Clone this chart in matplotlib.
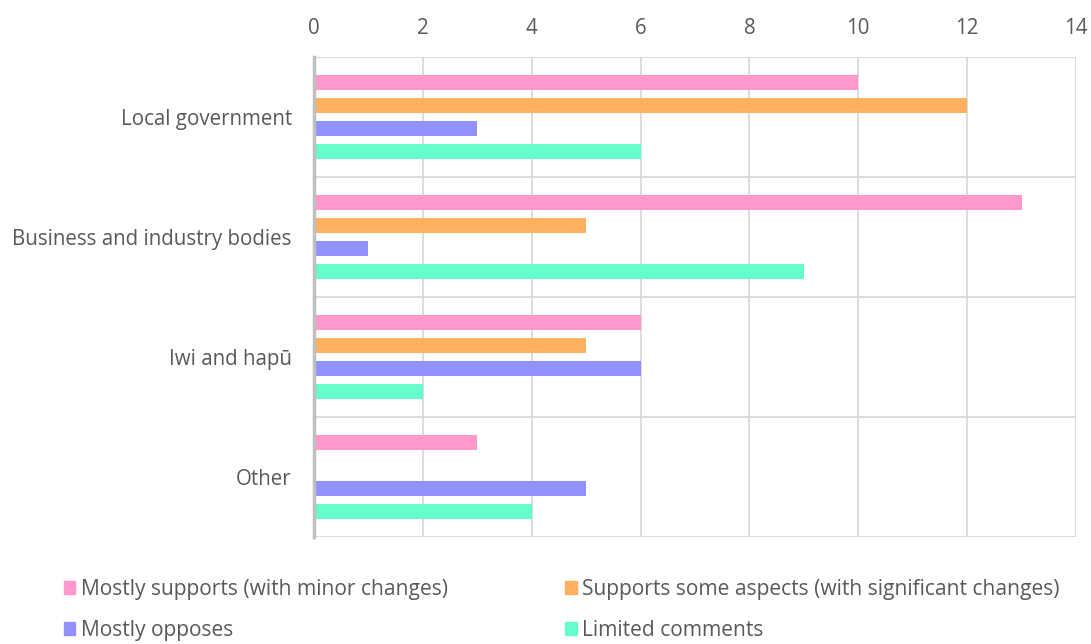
import matplotlib
matplotlib.use("Agg")
import matplotlib.pyplot as plt
import numpy as np
from matplotlib.patches import Patch

categories = ["Local government", "Business and industry bodies", "Iwi and hapū", "Other"]
series_names = ["Mostly supports (with minor changes)",
                "Supports some aspects (with significant changes)",
                "Mostly opposes",
                "Limited comments"]
mostly_supports = [10, 13, 6, 3]
supports_some = [12, 5, 5, 0]
mostly_opposes = [3, 1, 6, 5]
limited_comments = [6, 9, 2, 4]
xticks = [0, 2, 4, 6, 8, 10, 12, 14]

colors = ["#FF99CC", "#FFB061", "#9090FF", "#66FFCC"]
series = [mostly_supports, supports_some, mostly_opposes, limited_comments]

plt.rcParams['font.family'] = ['Open Sans', 'DejaVu Sans']
txt = "#595959"
fs = 14.8
lfs = 15.1

fig = plt.figure(figsize=(10.91, 6.44), dpi=100)
ax = fig.add_axes([314/1091, 1-537/644, (1076-314)/1091, (537-57)/644])

y = np.arange(len(categories))
pitch = 23/120
h = 15/120
for i, (vals, c) in enumerate(zip(series, colors)):
    ax.barh(y + (i - 1.5) * pitch, vals, height=h, color=c, zorder=3)

ax.set_ylim(len(categories) - 0.5, -0.5)
ax.set_xlim(0, 14)
ax.set_xticks(xticks)
ax.xaxis.tick_top()
ax.set_yticks(y)
ax.set_yticklabels(categories)
ax.tick_params(axis='both', length=0, labelsize=fs, labelcolor=txt)
ax.tick_params(axis='x', pad=13)
ax.tick_params(axis='y', pad=16)

ax.grid(axis='x', color="#D9D9D9", linewidth=1.3, zorder=0)
for b in np.arange(-0.5, len(categories) + 0.5, 1):
    ax.axhline(b, color="#D9D9D9", linewidth=1.3, zorder=0)
for s in ["top", "right", "bottom"]:
    ax.spines[s].set_visible(False)
ax.spines["left"].set_color("#BFBFBF")
ax.spines["left"].set_linewidth(2.5)
ax.spines["left"].set_zorder(4)

handles = [Patch(color=c) for c in colors]
order = [0, 2, 1, 3]
leg = fig.legend([handles[i] for i in order], [series_names[i] for i in order],
                 ncol=2, loc="center", bbox_to_anchor=(561.5/1091, 1-610/644),
                 frameon=False, fontsize=lfs, handlelength=0.56, handleheight=0.56,
                 handletextpad=0.25, columnspacing=5.6, labelspacing=0.98,
                 borderpad=0, borderaxespad=0)
for t in leg.get_texts():
    t.set_color(txt)

fig.savefig("out.png", dpi=100)
